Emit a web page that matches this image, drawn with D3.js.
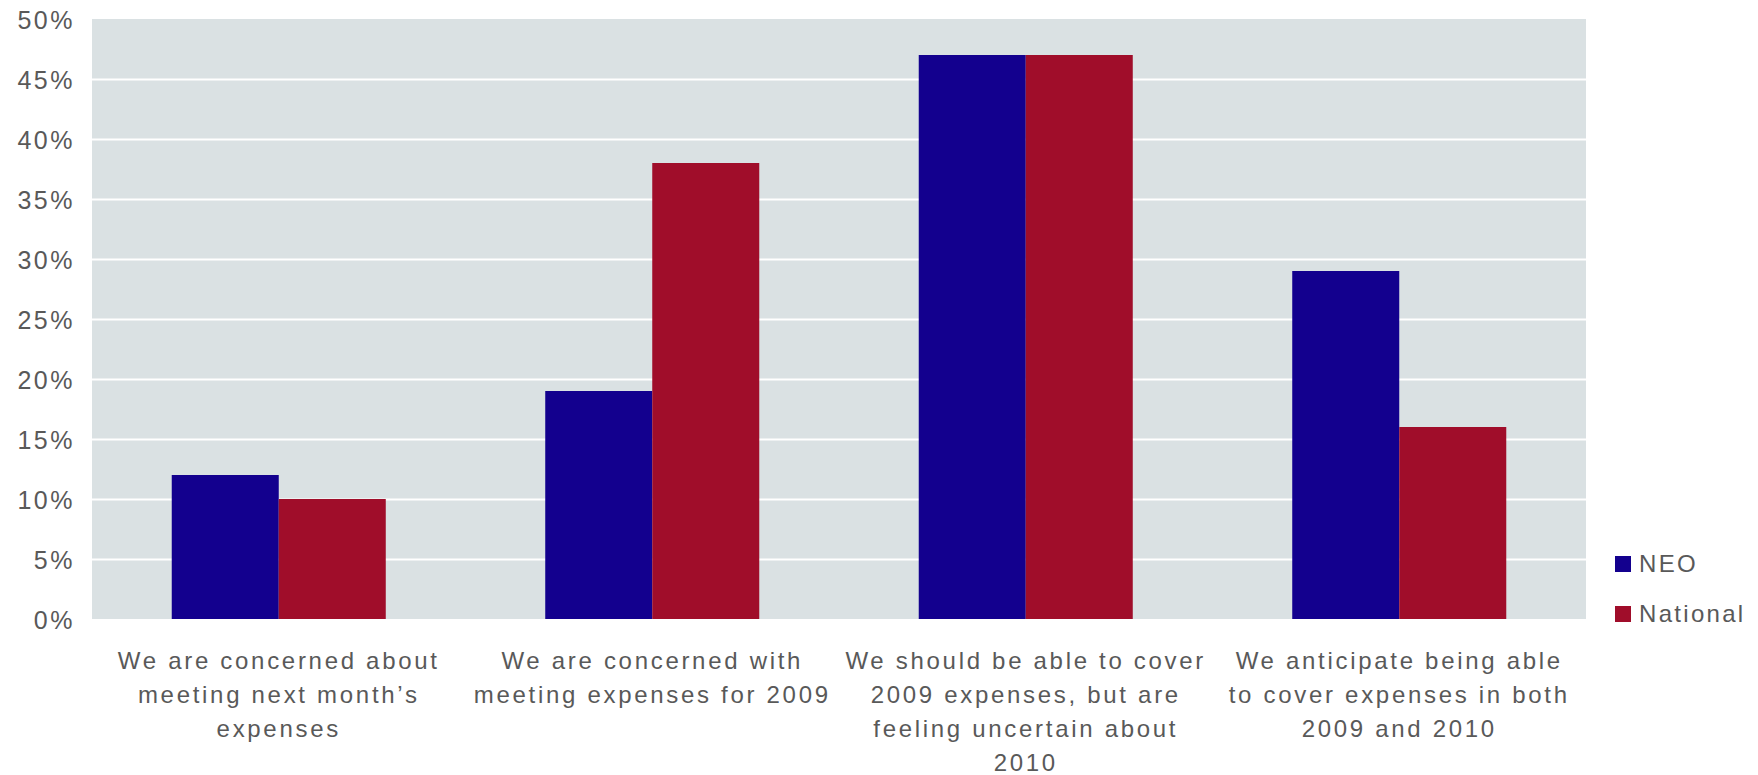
<!DOCTYPE html>
<html>
<head>
<meta charset="utf-8">
<script src="https://cdn.jsdelivr.net/npm/d3@7"></script>
<style>
  html, body { margin: 0; padding: 0; background: #ffffff; }
  svg { display: block; }
  text { font-family: "Liberation Sans", Arial, sans-serif; fill: #595959; }
</style>
</head>
<body>
<svg id="chart" width="1758" height="775"></svg>
<script>
const categories = ["c1", "c2", "c3", "c4"];
const categoryLines = [
  ["We are concerned about", "meeting next month\u2019s", "expenses"],
  ["We are concerned with", "meeting expenses for 2009"],
  ["We should be able to cover", "2009 expenses, but are", "feeling uncertain about", "2010"],
  ["We anticipate being able", "to cover expenses in both", "2009 and 2010"]
];
const seriesNames = ["NEO", "National"];
const neoValues = [0.12, 0.19, 0.47, 0.29];
const nationalValues = [0.10, 0.38, 0.47, 0.16];
const yTicks = [0, 0.05, 0.10, 0.15, 0.20, 0.25, 0.30, 0.35, 0.40, 0.45, 0.50];
const colors = ["#13008E", "#A00D2A"];

const svg = d3.select("#chart");
const margin = { left: 92, top: 19, right: 172, bottom: 156 };
const W = 1758, H = 775;
const plotW = W - margin.left - margin.right;
const plotH = H - margin.top - margin.bottom;

const g = svg.append("g").attr("transform", `translate(${margin.left},${margin.top})`);

g.append("rect").attr("x", 0).attr("y", 0).attr("width", plotW).attr("height", plotH).attr("fill", "#DAE1E3");

const x0 = d3.scaleBand().domain(categories).range([0, plotW]).paddingInner(0.427).paddingOuter(0.2135);
const x1 = d3.scaleBand().domain(seriesNames).range([0, x0.bandwidth()]).padding(0);
const y = d3.scaleLinear().domain([0, 0.5]).range([plotH, 0]);

// y axis with gridlines
const yAxis = g.append("g")
  .call(d3.axisLeft(y).tickValues(yTicks).tickFormat(d3.format(".0%")).tickSize(-plotW).tickPadding(17));
yAxis.select(".domain").remove();
yAxis.selectAll(".tick line")
  .attr("stroke", "#ffffff").attr("stroke-width", 2)
  .attr("opacity", d => (d === 0 || d === 0.5) ? 0 : 1);
yAxis.selectAll(".tick text")
  .attr("font-size", 25).attr("letter-spacing", 2.5)
  .attr("fill", "#595959").attr("dy", "0.36em")
  .attr("font-family", "Liberation Sans, Arial, sans-serif");

// bars
const data = categories.map((c, i) => ({ cat: c, vals: [
  { s: "NEO", v: neoValues[i] }, { s: "National", v: nationalValues[i] }
]}));
const groups = g.selectAll(".grp").data(data).enter().append("g")
  .attr("transform", d => `translate(${x0(d.cat)},0)`);
groups.selectAll("rect").data(d => d.vals).enter().append("rect")
  .attr("x", d => x1(d.s))
  .attr("width", x1.bandwidth())
  .attr("y", d => y(d.v))
  .attr("height", d => plotH - y(d.v))
  .attr("fill", (d, i) => colors[i]);

// x axis
const xAxis = g.append("g").attr("transform", `translate(0,${plotH})`)
  .call(d3.axisBottom(x0).tickSize(0).tickFormat(""));
xAxis.select(".domain").remove();
xAxis.selectAll(".tick text").each(function(d, i) {
  const t = d3.select(this);
  t.text(null).attr("y", 50).attr("dy", 0)
    .attr("font-size", 24).attr("letter-spacing", 2.7).attr("fill", "#595959")
    .attr("font-family", "Liberation Sans, Arial, sans-serif")
    .attr("text-anchor", "middle");
  categoryLines[i].forEach((line, k) => {
    t.append("tspan").attr("x", 0).attr("dy", k === 0 ? 0 : 34).text(line);
  });
});

// legend
const legend = svg.append("g").attr("transform", "translate(1615,556)");
seriesNames.forEach((name, i) => {
  const lg = legend.append("g").attr("transform", `translate(0,${i * 50})`);
  lg.append("rect").attr("width", 16).attr("height", 16).attr("fill", colors[i]);
  lg.append("text").attr("x", 24).attr("y", 16)
    .attr("font-size", 24).attr("letter-spacing", 2.3)
    .attr("fill", "#595959").text(name);
});
</script>
</body>
</html>
